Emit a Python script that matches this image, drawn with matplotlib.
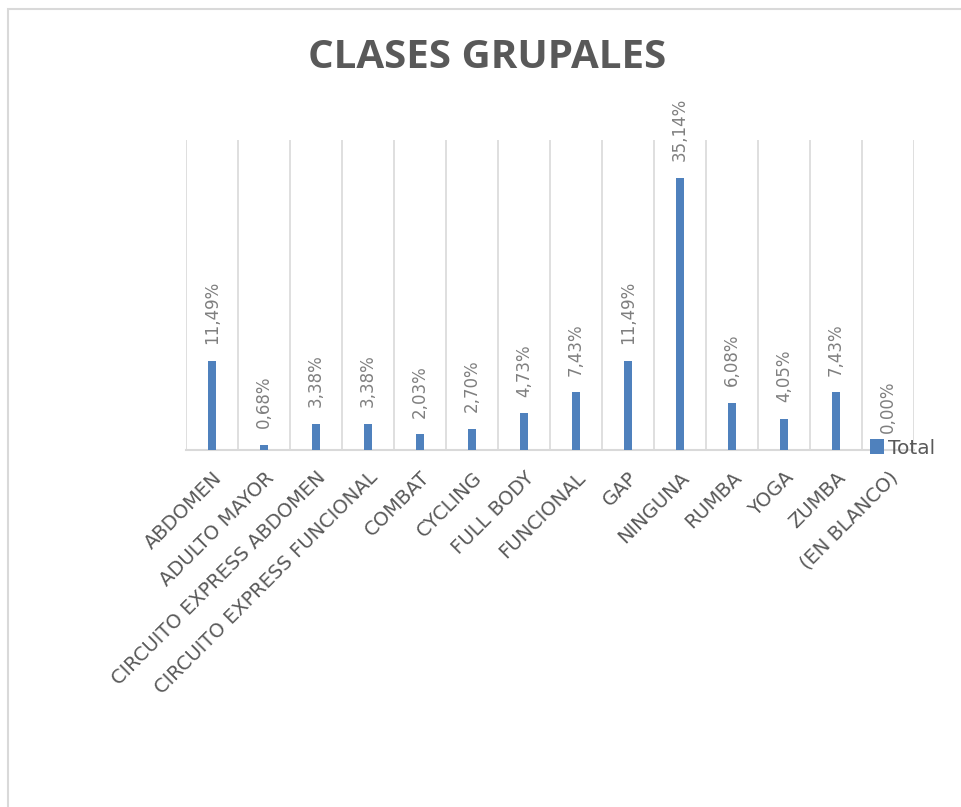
import matplotlib
matplotlib.use("Agg")
import matplotlib.pyplot as plt
import matplotlib.transforms as mtransforms
from matplotlib.patches import Rectangle

categories = ["ABDOMEN", "ADULTO MAYOR", "CIRCUITO EXPRESS ABDOMEN",
              "CIRCUITO EXPRESS FUNCIONAL", "COMBAT", "CYCLING", "FULL BODY",
              "FUNCIONAL", "GAP", "NINGUNA", "RUMBA", "YOGA", "ZUMBA",
              "(EN BLANCO)"]
values = [11.49, 0.68, 3.38, 3.38, 2.03, 2.70, 4.73, 7.43, 11.49, 35.14,
          6.08, 4.05, 7.43, 0.00]
series_name = "Total"
title = "CLASES GRUPALES"

W, H = 961, 807
fig = plt.figure(figsize=(W / 100, H / 100), dpi=100)
fig.patch.set_facecolor("white")

# outer chart frame (only left and top visible in reference)
fig.patches.append(Rectangle((8 / W, -0.1), 1.2, 1 - 9 / H + 0.1,
                             transform=fig.transFigure, fill=False,
                             edgecolor="#d9d9d9", lw=1.5))

ax = fig.add_axes([186 / W, 1 - 450 / H, 728 / W, 310 / H])
x = list(range(len(categories)))
ax.bar(x, values, width=0.17, color="#4f81bd", label=series_name, zorder=3)
ax.set_xlim(-0.5, len(categories) - 0.5)
ax.set_ylim(0, 40)

# vertical category gridlines
for b in range(len(categories) + 1):
    ax.axvline(b - 0.5, color="#d9d9d9", lw=1.2, zorder=1)

for xi, v in zip(x, values):
    ax.annotate(f"{v:.2f}%".replace(".", ","), (xi, v), xytext=(0, 12),
                textcoords="offset points", rotation=90, ha="center",
                va="bottom", fontsize=12, color="#7f7f7f")

for s in ["top", "right", "left"]:
    ax.spines[s].set_visible(False)
ax.spines["bottom"].set_color("#d9d9d9")
ax.spines["bottom"].set_linewidth(1.5)
ax.set_yticks([])
ax.set_xticks(x)
ax.set_xticklabels(categories, rotation=45, ha="right", va="top",
                   rotation_mode="anchor", fontsize=14, color="#595959")
shift = mtransforms.ScaledTranslation(-6 / 100, 0, fig.dpi_scale_trans)
for lbl in ax.get_xticklabels():
    lbl.set_transform(lbl.get_transform() + shift)
ax.tick_params(axis="x", length=0, pad=13)

fig.text(487 / W, 1 - 57 / H, title, ha="center", va="center",
         fontsize=29, fontweight="bold", color="#595959", family="Open Sans")

fig.legend(loc="center left", bbox_to_anchor=(870 / W, 1 - 448 / H),
           frameon=False, fontsize=14.5, labelcolor="#595959",
           handlelength=0.7, handleheight=0.7, handletextpad=0.2,
           borderpad=0, borderaxespad=0)

fig.savefig("out.png", dpi=100, facecolor="white")
